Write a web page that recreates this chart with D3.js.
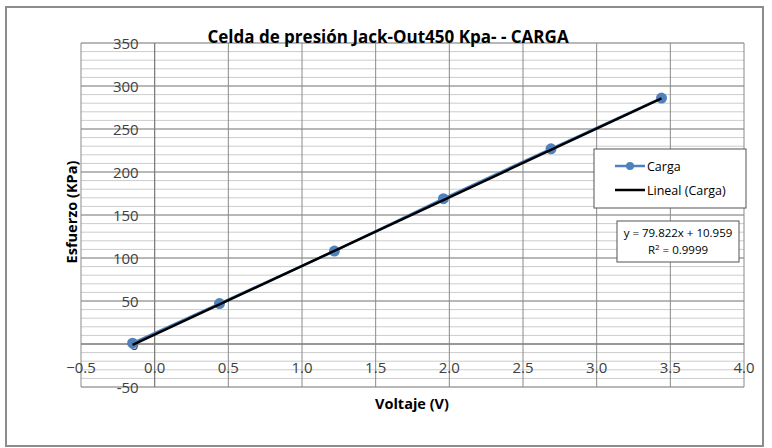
<!DOCTYPE html>
<html>
<head>
<meta charset="utf-8">
<script src="https://cdn.jsdelivr.net/npm/d3@7"></script>
<style>
  body { margin: 0; background: #fff; }
  text { font-family: "Open Sans", "Liberation Sans", sans-serif; }
</style>
</head>
<body>
<svg id="chart" width="772" height="448"></svg>
<script>
// data
var voltaje = [-0.15, 0.44, 1.22, 1.96, 2.69, 3.44];
var esfuerzo = [1, 47, 108, 169, 227, 286];
var xTicks = [-0.5, 0, 0.5, 1, 1.5, 2, 2.5, 3, 3.5, 4];
var yTicks = [-50, 50, 100, 150, 200, 250, 300, 350];
var trendSlope = 79.822, trendIntercept = 10.959;

var svg = d3.select("#chart");

// outer frame
svg.append("rect")
  .attr("x", 6).attr("y", 7).attr("width", 757).attr("height", 439)
  .attr("fill", "#fff").attr("stroke", "#8c8c8c").attr("stroke-width", 2);

var x = d3.scaleLinear().domain([-0.5, 4]).range([81, 744]);
var y = d3.scaleLinear().domain([-50, 350]).range([387, 43]);

// minor horizontal gridlines (every 10)
svg.append("g").selectAll("line")
  .data(d3.range(-50, 351, 10))
  .enter().append("line")
  .attr("x1", x(-0.5)).attr("x2", x(4))
  .attr("y1", function(d){ return y(d); }).attr("y2", function(d){ return y(d); })
  .attr("stroke", "#cccccc").attr("stroke-width", 1);

// major horizontal gridlines
svg.append("g").selectAll("line")
  .data(d3.range(-50, 351, 50))
  .enter().append("line")
  .attr("x1", x(-0.5)).attr("x2", x(4))
  .attr("y1", function(d){ return y(d); }).attr("y2", function(d){ return y(d); })
  .attr("stroke", "#8a8a8a").attr("stroke-width", 1);

// vertical gridlines
svg.append("g").selectAll("line")
  .data(xTicks)
  .enter().append("line")
  .attr("x1", function(d){ return x(d); }).attr("x2", function(d){ return x(d); })
  .attr("y1", y(350)).attr("y2", y(-50))
  .attr("stroke", "#8a8a8a").attr("stroke-width", 1);

// axes crossing at zero
svg.append("line")
  .attr("x1", x(-0.5)).attr("x2", x(4)).attr("y1", y(0)).attr("y2", y(0))
  .attr("stroke", "#7a7a7a").attr("stroke-width", 1);
svg.append("line")
  .attr("x1", x(0)).attr("x2", x(0)).attr("y1", y(350)).attr("y2", y(-50))
  .attr("stroke", "#7a7a7a").attr("stroke-width", 1);

// tick labels
svg.append("g").selectAll("text")
  .data(xTicks)
  .enter().append("text")
  .attr("x", function(d){ return x(d); })
  .attr("y", y(0) + 29)
  .attr("text-anchor", "middle")
  .attr("font-size", 15).attr("fill", "#404040")
  .text(function(d){ return d3.format(".1f")(d); });

svg.append("g").selectAll("text")
  .data(yTicks)
  .enter().append("text")
  .attr("x", x(0) - 16)
  .attr("y", function(d){ return y(d) + 5.5; })
  .attr("text-anchor", "end")
  .attr("font-size", 15).attr("fill", "#404040")
  .text(function(d){ return d; });

svg.append("text")
  .attr("x", x(0) - 16).attr("y", y(0) + 5.5)
  .attr("text-anchor", "end")
  .attr("font-size", 15).attr("fill", "#404040")
  .text("0");

// trend line
var trend = d3.line()
  .x(function(d){ return x(d); })
  .y(function(d){ return y(trendSlope * d + trendIntercept); });

// series line + markers
var pts = voltaje.map(function(v, i){ return [v, esfuerzo[i]]; });
svg.append("path")
  .datum(pts)
  .attr("d", d3.line().x(function(d){ return x(d[0]); }).y(function(d){ return y(d[1]); }))
  .attr("fill", "none").attr("stroke", "#4f81bd").attr("stroke-width", 2.5);
svg.append("g").selectAll("circle")
  .data(pts)
  .enter().append("circle")
  .attr("cx", function(d){ return x(d[0]); })
  .attr("cy", function(d){ return y(d[1]); })
  .attr("r", 5.5)
  .attr("fill", "#4f81bd");

svg.append("path")
  .datum([d3.min(voltaje), d3.max(voltaje)])
  .attr("d", trend)
  .attr("fill", "none").attr("stroke", "#000").attr("stroke-width", 2.5);

// title
svg.append("text")
  .attr("x", 388).attr("y", 43)
  .attr("text-anchor", "middle")
  .attr("font-size", 17).attr("font-weight", "bold").attr("fill", "#000")
  .text("Celda de presión Jack-Out450 Kpa- - CARGA");

// axis titles
svg.append("text")
  .attr("transform", "translate(77,212) rotate(-90)")
  .attr("text-anchor", "middle")
  .attr("font-size", 14.5).attr("font-weight", "bold").attr("fill", "#000")
  .text("Esfuerzo (KPa)");
svg.append("text")
  .attr("x", 412).attr("y", 409)
  .attr("text-anchor", "middle")
  .attr("font-size", 14.5).attr("font-weight", "bold").attr("fill", "#000")
  .text("Voltaje (V)");

// legend
var legend = svg.append("g");
legend.append("rect")
  .attr("x", 594).attr("y", 149).attr("width", 152).attr("height", 59)
  .attr("fill", "#fff").attr("stroke", "#555").attr("stroke-width", 1);
legend.append("line")
  .attr("x1", 615).attr("x2", 645).attr("y1", 166).attr("y2", 166)
  .attr("stroke", "#4f81bd").attr("stroke-width", 2.5);
legend.append("circle")
  .attr("cx", 630).attr("cy", 166).attr("r", 4).attr("fill", "#4f81bd");
legend.append("text")
  .attr("x", 647).attr("y", 170.5)
  .attr("font-size", 12.5).attr("fill", "#000")
  .text("Carga");
legend.append("line")
  .attr("x1", 615).attr("x2", 645).attr("y1", 190).attr("y2", 190)
  .attr("stroke", "#000").attr("stroke-width", 2.5);
legend.append("text")
  .attr("x", 647).attr("y", 194.5)
  .attr("font-size", 12.5).attr("fill", "#000")
  .text("Lineal (Carga)");

// equation label
var eq = svg.append("g");
eq.append("rect")
  .attr("x", 617).attr("y", 221).attr("width", 122).attr("height", 41)
  .attr("fill", "#fff").attr("stroke", "#555").attr("stroke-width", 1);
eq.append("text")
  .attr("x", 678).attr("y", 237)
  .attr("text-anchor", "middle")
  .attr("font-size", 11.5).attr("fill", "#000")
  .text("y = 79.822x + 10.959");
var r2 = eq.append("text")
  .attr("x", 678).attr("y", 254)
  .attr("text-anchor", "middle")
  .attr("font-size", 11.5).attr("fill", "#000");
r2.append("tspan").text("R");
r2.append("tspan").attr("dy", -4).attr("font-size", 8).text("2");
r2.append("tspan").attr("dy", 4).text(" = 0.9999");
</script>
</body>
</html>
